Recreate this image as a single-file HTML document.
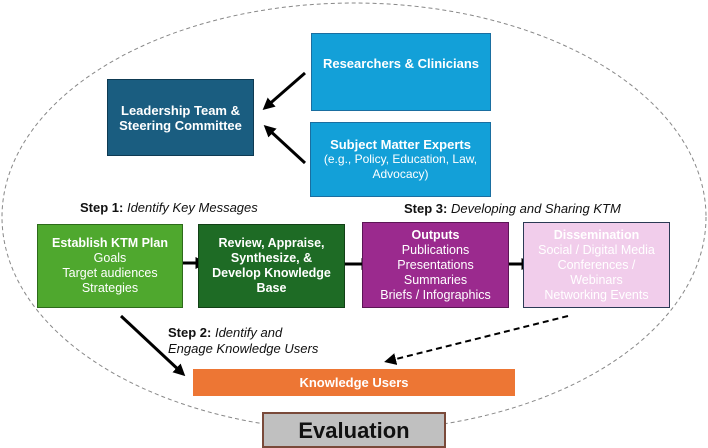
<!DOCTYPE html>
<html><head><meta charset="utf-8"><style>
body{margin:0;width:708px;height:448px;background:#fff;overflow:hidden;position:relative;font-family:"Liberation Sans",sans-serif}
.b{position:absolute;box-sizing:border-box;display:flex;flex-direction:column;align-items:center;justify-content:center;text-align:center;color:#fff;font-size:12.5px;line-height:15px}
.t{position:absolute;font-size:13px;color:#111}
b{font-weight:bold}
</style></head><body>
<svg width="708" height="448" style="position:absolute;left:0;top:0">
<defs><marker id="a" markerWidth="4" markerHeight="4" refX="2.5" refY="2" orient="auto"><path d="M0,0L4,2L0,4z" fill="#000"/></marker>
<marker id="d" markerWidth="6" markerHeight="6" refX="4" refY="3" orient="auto"><path d="M0,0L6,3L0,6z" fill="#000"/></marker></defs>
<ellipse cx="354" cy="217" rx="352" ry="214" fill="none" stroke="#888" stroke-dasharray="4,3" stroke-width="1"/>
<g stroke="#000" stroke-width="3" marker-end="url(#a)">
<line x1="305" y1="73" x2="266" y2="107"/>
<line x1="305" y1="163" x2="267" y2="128"/>
<line x1="175" y1="263" x2="203" y2="263"/>
<line x1="340" y1="264" x2="369" y2="264"/>
<line x1="500" y1="264" x2="529" y2="264"/>
<line x1="121" y1="316" x2="182" y2="373"/>
</g>
<line x1="568" y1="316" x2="388" y2="361" stroke="#000" stroke-width="2" stroke-dasharray="6,4" marker-end="url(#d)"/>
</svg>
<div class="b" style="left:311px;top:33px;width:180px;height:78px;background:#13a0d8;border:1px solid #1a6ea0;font-weight:bold;font-size:13px;padding-bottom:18px">Researchers &amp; Clinicians</div>
<div class="b" style="left:107px;top:79px;width:147px;height:77px;background:#1a5d80;border:1px solid #0e3a52;font-weight:bold;font-size:13px">Leadership Team &amp;<br>Steering Committee</div>
<div class="b" style="left:310px;top:122px;width:181px;height:75px;background:#13a0d8;border:1px solid #1a6ea0;font-size:12px"><b style="font-size:13px">Subject Matter Experts</b>(e.g., Policy, Education, Law,<br>Advocacy)</div>
<div class="t" style="left:80px;top:200px"><b>Step 1:</b> <i>Identify Key Messages</i></div>
<div class="t" style="left:404px;top:201px"><b>Step 3:</b> <i>Developing and Sharing KTM</i></div>
<div class="b" style="left:37px;top:224px;width:146px;height:84px;background:#4fa82e;border:1px solid #2d6b1a"><b>Establish KTM Plan</b>Goals<br>Target audiences<br>Strategies</div>
<div class="b" style="left:198px;top:224px;width:147px;height:84px;background:#1e6b25;border:1px solid #124016;font-weight:bold">Review, Appraise,<br>Synthesize, &amp;<br>Develop Knowledge<br>Base</div>
<div class="b" style="left:362px;top:222px;width:147px;height:86px;background:#9b2a8e;border:1px solid #5c1555"><b>Outputs</b>Publications<br>Presentations<br>Summaries<br>Briefs / Infographics</div>
<div class="b" style="left:523px;top:222px;width:147px;height:86px;background:#f1cdeb;border:1px solid #2b3a55"><b>Dissemination</b>Social / Digital Media<br>Conferences /<br>Webinars<br>Networking Events</div>
<div class="t" style="left:168px;top:325px;line-height:16px"><b>Step 2:</b> <i>Identify and<br>Engage Knowledge Users</i></div>
<div class="b" style="left:193px;top:369px;width:322px;height:27px;background:#ed7634;font-weight:bold;font-size:13px">Knowledge Users</div>
<div class="b" style="left:262px;top:412px;width:184px;height:36px;background:#c0c0c0;border:2px solid #7a4a3a;color:#111;font-weight:bold;font-size:22px">Evaluation</div>
</body></html>
